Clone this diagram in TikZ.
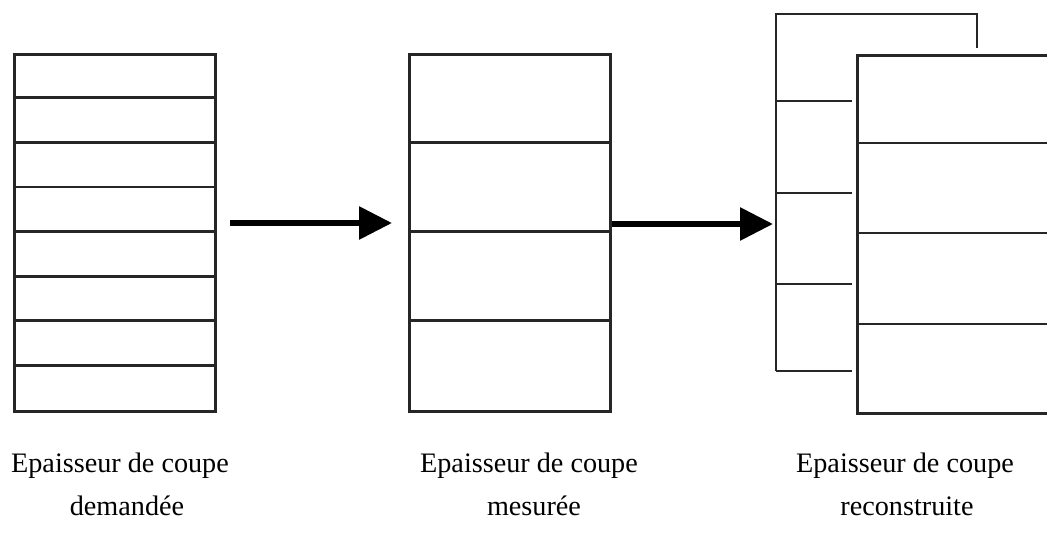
\documentclass[tikz,border=0pt]{standalone}
\usepackage{fontspec}
\setmainfont{Liberation Serif}
\usetikzlibrary{arrows.meta}
\begin{document}
\begin{tikzpicture}[x=1pt,y=-1pt,
  slab/.style={draw=black!85,line width=2.8pt,rectangle,inner sep=0pt,anchor=north west},
  divline/.style={draw=black!85,line width=2.8pt},
  bigarrow/.style={line width=6pt,-{Triangle[length=33pt,width=32pt]}},
  caption/.style={font=\fontsize{28.2pt}{34pt}\selectfont,inner sep=0pt,anchor=base}]
\useasboundingbox (0,0) rectangle (1047,533);
\clip (0,0) rectangle (1047,533);
% left box: 8 slices
\node[slab,minimum width=201pt,minimum height=357pt] (A) at (13,53) {};
\foreach \y in {97.6,142.2,186.9,231.5,276.1,320.7,365.4}
  \draw[divline] (A.west |- 0,\y) -- (A.east |- 0,\y);
% middle box: 4 slices
\node[slab,minimum width=201pt,minimum height=357pt] (B) at (408,53) {};
\foreach \y in {142.2,231.5,320.7}
  \draw[divline] (B.west |- 0,\y) -- (B.east |- 0,\y);
% right: back box (partly hidden)
\coordinate (C0) at (776,14);
\coordinate (C1) at (977,48);
\draw[divline] (776,371) -- (C0) -- (977,14) -- (C1);
\foreach \y in {101,193,284,371}
  \draw[divline] (776,\y) -- (852,\y);
% right: front box
\node[slab,minimum width=260pt,minimum height=358pt] (C) at (856,54) {};
\foreach \y in {143,233,324}
  \draw[divline] (C.west |- 0,\y) -- (C.east |- 0,\y);
% arrows
\coordinate (a1s) at (230,223);
\coordinate (a1e) at (392,223);
\coordinate (a2s) at (612,224);
\coordinate (a2e) at (773,224);
\draw[bigarrow] (a1s) -- (a1e);
\draw[bigarrow] (a2s) -- (a2e);
% captions
\node[caption] (t1) at (120,472) {Epaisseur de coupe};
\node[caption] (t1b) at (127,515) {demandée};
\node[caption] (t2) at (529,472) {Epaisseur de coupe};
\node[caption] (t2b) at (534,515) {mesurée};
\node[caption] (t3) at (905,472) {Epaisseur de coupe};
\node[caption] (t3b) at (907,515) {reconstruite};
\end{tikzpicture}
\end{document}
